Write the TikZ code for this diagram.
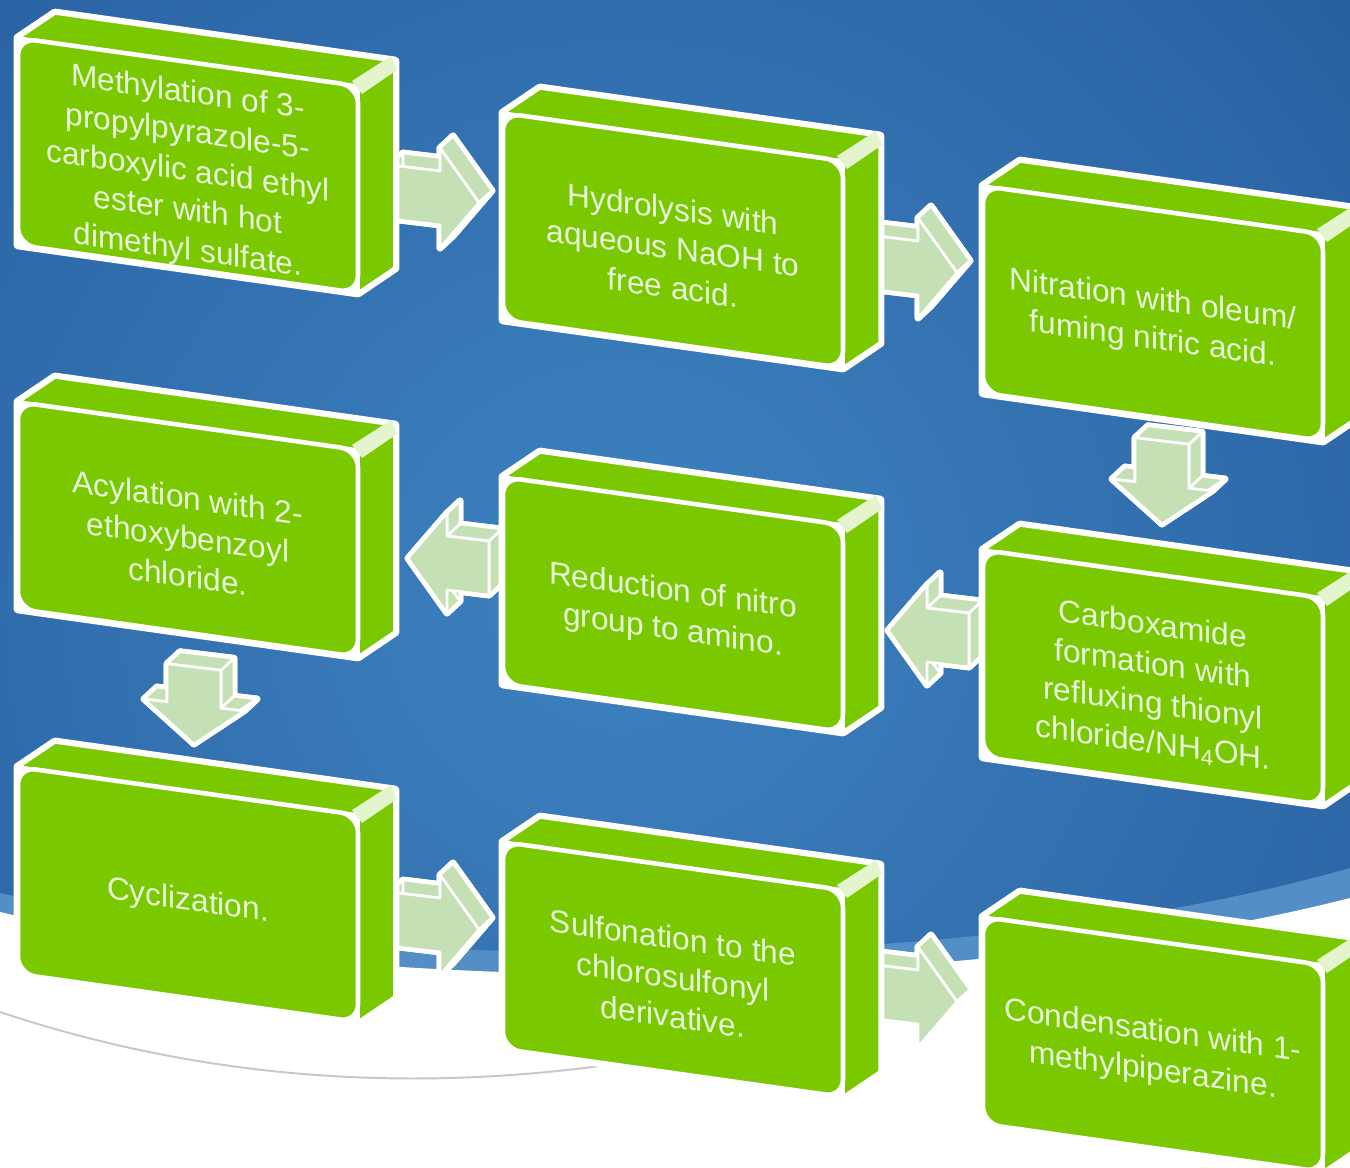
\documentclass[tikz,border=0pt]{standalone}
\usepackage{fontspec}
\setmainfont{Liberation Sans}
\usetikzlibrary{calc}
\definecolor{boxgreen}{RGB}{122,201,0}
\definecolor{arrowgreen}{RGB}{198,224,181}
\definecolor{txtgreen}{RGB}{232,245,220}
\definecolor{bglight}{RGB}{62,130,192}
\definecolor{bgmid}{RGB}{44,102,166}
\definecolor{bgdark}{RGB}{22,64,126}
\definecolor{bandblue}{RGB}{84,142,198}
\pgfdeclareradialshading{bgshade}{\pgfpoint{0bp}{0bp}}{color(0bp)=(bglight); color(20bp)=(bgmid); color(38bp)=(bgdark); color(50bp)=(bgdark)}
\tikzset{
  facestyle/.style={fill=boxgreen, draw=white, line width=2pt, line join=round},
  frontstyle/.style={fill=boxgreen, draw=white, line width=2.6pt, rounded corners=10pt},
  boxtext/.style={text=txtgreen, align=center, font=\fontsize{18}{22.4}\selectfont, inner sep=0pt},
  arrglow/.style={fill=white, draw=white, line width=3.8pt, line join=round},
  arrface/.style={fill=arrowgreen, draw=white, line width=1.5pt, line join=round},
}
% box: x0, y0, name, text
\newcommand{\procbox}[4]{%
  \coordinate (#3tl) at (#1,#2);
  \coordinate (#3tr) at (#1+340,#2+48);
  \coordinate (#3br) at (#1+340,#2+255);
  \coordinate (#3bl) at (#1,#2+207);
  \coordinate (#3c) at (#1+170,#2+135);
  \draw[white, line width=5pt, line join=round, fill=white] (#3tl) -- ($(#3tl)+(37,-25)$) -- ($(#3tr)+(37,-25)$) -- ($(#3br)+(37,-25)$) -- (#3br) -- (#3bl) -- cycle;
  \draw[facestyle] (#3tl) -- (#3tr) -- ($(#3tr)+(37,-25)$) -- ($(#3tl)+(37,-25)$) -- cycle;
  \draw[facestyle] (#3tr) -- ($(#3tr)+(37,-25)$) -- ($(#3br)+(37,-25)$) -- (#3br) -- cycle;
  \fill[white!80!boxgreen] ($(#3tr)+(-6,-5)$) -- ($(#3tr)+(33,-30)$) -- ($(#3tr)+(39,-16)$) -- ($(#3tr)+(4,8)$) -- cycle;
  \draw[frontstyle] (#3tl) -- (#3tr) -- (#3br) -- (#3bl) -- cycle;
  \node[boxtext, yslant=-0.141] (#3) at (#3c) {#4};
}
% arrow: cx, cy, angle, shaft length, name
\newcommand{\flowarrow}[5]{%
  \begin{scope}[shift={(#1,#2)}, yslant=-0.12, rotate=#3]
    \coordinate (#5f1) at (-#4,-27); \coordinate (#5f2) at (0,-27); \coordinate (#5f3) at (0,-50);
    \coordinate (#5f4) at (39,0); \coordinate (#5f5) at (0,50); \coordinate (#5f6) at (0,27);
    \coordinate (#5f7) at (-#4,27);
  \end{scope}
  \begin{scope}[shift={(#1+13,#2-12)}, yslant=-0.12, rotate=#3]
    \coordinate (#5b1) at (-#4,-27); \coordinate (#5b2) at (0,-27); \coordinate (#5b3) at (0,-50);
    \coordinate (#5b4) at (39,0); \coordinate (#5b5) at (0,50); \coordinate (#5b6) at (0,27);
    \coordinate (#5b7) at (-#4,27);
  \end{scope}
  \foreach \st in {arrglow,arrface}{
    \draw[\st] (#5b1)--(#5b2)--(#5b3)--(#5b4)--(#5b5)--(#5b6)--(#5b7)--cycle;
    \foreach \i/\j in {1/2,2/3,3/4,4/5,5/6,6/7,7/1}
      \draw[\st] (#5f\i)--(#5f\j)--(#5b\j)--(#5b\i)--cycle;
    \draw[\st] (#5f1)--(#5f2)--(#5f3)--(#5f4)--(#5f5)--(#5f6)--(#5f7)--cycle;
  }
}
\begin{document}
\begin{tikzpicture}[x=0.02cm, y=-0.02cm]
\useasboundingbox (0,0) rectangle (1350,1168);
\begin{scope}
  \clip (0,0) rectangle (1350,1168);
  \fill[bgdark] (0,0) rectangle (1350,1168);
  \shade[shading=bgshade] (620,600) circle (1000);
  \fill[bandblue] (0,893) .. controls (350,972) and (950,982) .. (1350,868) -- (1350,1168) -- (0,1168) -- cycle;
  \fill[white] (0,912) .. controls (350,995) and (950,1000) .. (1350,898) -- (1350,1168) -- (0,1168) -- cycle;
  \draw[black!22, line width=1.1pt] (0,1012) .. controls (180,1072) and (380,1095) .. (600,1066);

  % arrows
  \flowarrow{440}{198}{0}{50}{ra}
  \flowarrow{918}{268}{0}{50}{rb}
  \flowarrow{1162}{485}{-90}{44}{da}
  \flowarrow{927}{635}{180}{42}{la}
  \flowarrow{447}{563}{180}{42}{lb}
  \flowarrow{194}{705}{-90}{38}{db}
  \flowarrow{440}{925}{0}{50}{rc}
  \flowarrow{918}{997}{0}{50}{rd}

  % boxes
  \procbox{18}{38}{b1}{Methylation of 3-\\propylpyrazole-5-\\carboxylic acid ethyl\\ester with hot\\dimethyl sulfate.}
  \procbox{503}{113}{b2}{Hydrolysis with\\aqueous NaOH to\\free acid.}
  \procbox{983}{186}{b3}{Nitration with oleum/\\fuming nitric acid.}
  \procbox{18}{402}{b4}{Acylation with 2-\\ethoxybenzoyl\\chloride.}
  \procbox{503}{477}{b5}{Reduction of nitro\\group to amino.}
  \procbox{983}{550}{b6}{Carboxamide\\formation with\\refluxing thionyl\\chloride/NH\textsubscript{4}OH.}
  \procbox{18}{767}{b7}{Cyclization.}
  \procbox{503}{842}{b8}{Sulfonation to the\\chlorosulfonyl\\derivative.}
  \procbox{983}{917}{b9}{Condensation with 1-\\methylpiperazine.}
\end{scope}
\end{tikzpicture}
\end{document}
